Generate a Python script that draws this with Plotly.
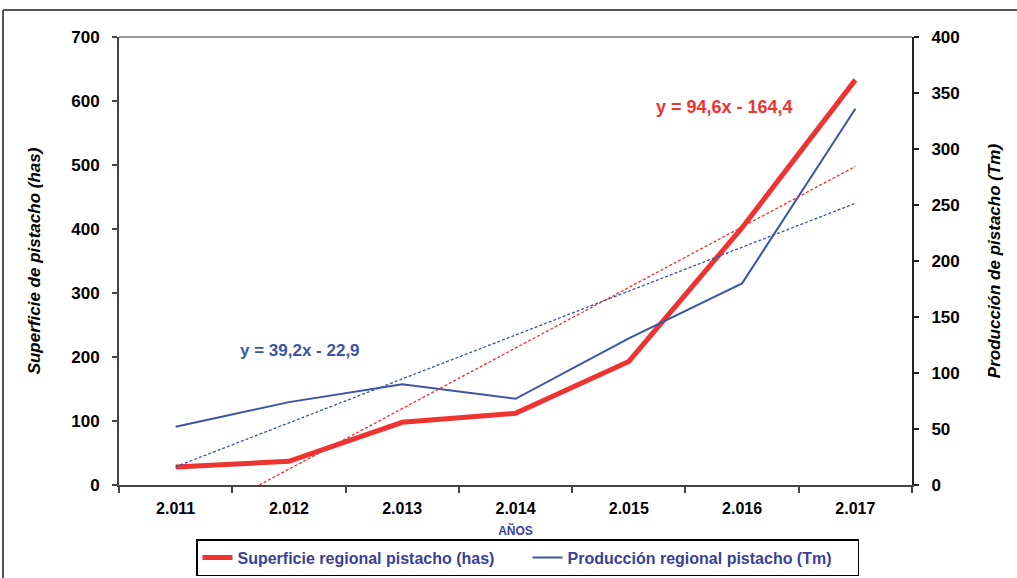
import plotly.graph_objects as go

years = ["2.011", "2.012", "2.013", "2.014", "2.015", "2.016", "2.017"]
superficie = [28, 37, 98, 112, 193, 402, 633]
produccion = [52, 74, 90, 77, 131, 180, 336]
trend_sup = (94.6, -164.4)
trend_prod = (39.2, -22.9)

RED = "#ee3330"
BLUE = "#3a55a6"
TXT_BLUE = "#3b3f98"

xi = list(range(1, len(years) + 1))
t_sup = [trend_sup[0] * x + trend_sup[1] for x in xi]
t_prod = [trend_prod[0] * x + trend_prod[1] for x in xi]
x0_sup = -trend_sup[1] / trend_sup[0]  # red trend meets the axis floor here

fig = go.Figure()
fig.add_trace(go.Scatter(x=[x0_sup - 1] + [i - 1 for i in xi[1:]],
                         y=[0] + t_sup[1:], mode="lines", xaxis="x2",
                         line=dict(color=RED, width=1.3, dash="3px,2px"), showlegend=False, hoverinfo="skip"))
fig.add_trace(go.Scatter(x=[i - 1 for i in xi], y=t_prod, mode="lines", xaxis="x2", yaxis="y2",
                         line=dict(color=BLUE, width=1.3, dash="3px,2px"), showlegend=False, hoverinfo="skip"))
fig.add_trace(go.Scatter(x=years, y=superficie, mode="lines", name="Superficie regional pistacho (has)",
                         line=dict(color=RED, width=5)))
fig.add_trace(go.Scatter(x=years, y=produccion, mode="lines", name="Producción regional pistacho (Tm)",
                         yaxis="y2", line=dict(color=BLUE, width=2)))

W, H = 1017, 578
L, R, T, B = 119, 912, 37, 485
def px(x): return (x - L) / (R - L)
def py(y): return (B - y) / (B - T)

xtickfont = dict(family="Liberation Sans", size=16, color="black", weight="bold")
ytickfont = dict(family="Liberation Sans", size=17, color="black", weight="bold")
fig.update_layout(
    width=W, height=H, margin=dict(l=L, r=W - R, t=T, b=H - B, autoexpand=False),
    paper_bgcolor="white", plot_bgcolor="white",
    font=dict(family="Liberation Sans"),
    xaxis=dict(type="category", tickson="boundaries", ticks="outside", ticklen=6, tickwidth=2,
               tickcolor="#444", showline=True, linecolor="#444", linewidth=2, showgrid=False,
               tickfont=xtickfont, range=[-0.5, 6.5], automargin=False, ticklabelstandoff=8,
               title=dict(text="AÑOS", font=dict(size=12, color=TXT_BLUE, weight="bold"), standoff=10)),
    xaxis2=dict(overlaying="x", range=[-0.5, 6.5], visible=False),
    yaxis=dict(range=[0, 700], dtick=100, ticks="outside", ticklen=5, tickwidth=2, tickcolor="#444",
               showline=True, linecolor="#444", linewidth=2, showgrid=False, zeroline=False,
               tickfont=ytickfont, automargin=False, ticklabelstandoff=9,
               title=dict(text="<i>Superficie de pistacho (has)</i>",
                          font=dict(size=17, color="black", weight="bold"), standoff=26)),
    yaxis2=dict(range=[0, 400], dtick=50, overlaying="y", side="right", ticks="outside", ticklen=5,
                tickwidth=2, tickcolor="#222", showline=True, linecolor="#222", linewidth=2,
                showgrid=False, zeroline=False, tickfont=ytickfont, automargin=False,
                ticklabelstandoff=9,
                title=dict(text="<i>Producción de pistacho (Tm)</i>",
                           font=dict(size=17, color="black", weight="bold"), standoff=29)),
    legend=dict(orientation="h", x=px(196), y=py(539), xanchor="left", yanchor="top",
                bordercolor="black", borderwidth=1.5, bgcolor="white",
                entrywidth=285, entrywidthmode="pixels",
                font=dict(size=16, color=TXT_BLUE, weight="bold"), itemwidth=30, tracegroupgap=0),
    annotations=[
        dict(text="<b>y = 94,6x - 164,4</b>", x=px(724), y=py(107), xref="paper", yref="paper",
             xanchor="center", yanchor="middle",
             showarrow=False, font=dict(size=18, color=RED)),
        dict(text="<b>y = 39,2x - 22,9</b>", x=px(300), y=py(350), xref="paper", yref="paper",
             xanchor="center", yanchor="middle",
             showarrow=False, font=dict(size=17, color=BLUE)),
    ],
    shapes=[
        dict(type="line", xref="paper", yref="paper", x0=0, x1=1, y0=1, y1=1,
             line=dict(color="#9a9a9a", width=2)),
        dict(type="line", xref="paper", yref="paper", x0=px(3), x1=px(1030), y0=py(10), y1=py(10),
             line=dict(color="#555", width=2)),
        dict(type="line", xref="paper", yref="paper", x0=px(3), x1=px(3), y0=py(10), y1=py(600),
             line=dict(color="#555", width=2)),
    ],
)

fig.write_html("out.html", config={"displayModeBar": False},
               post_script="document.body.style.margin='0';document.body.style.overflow='hidden';")
